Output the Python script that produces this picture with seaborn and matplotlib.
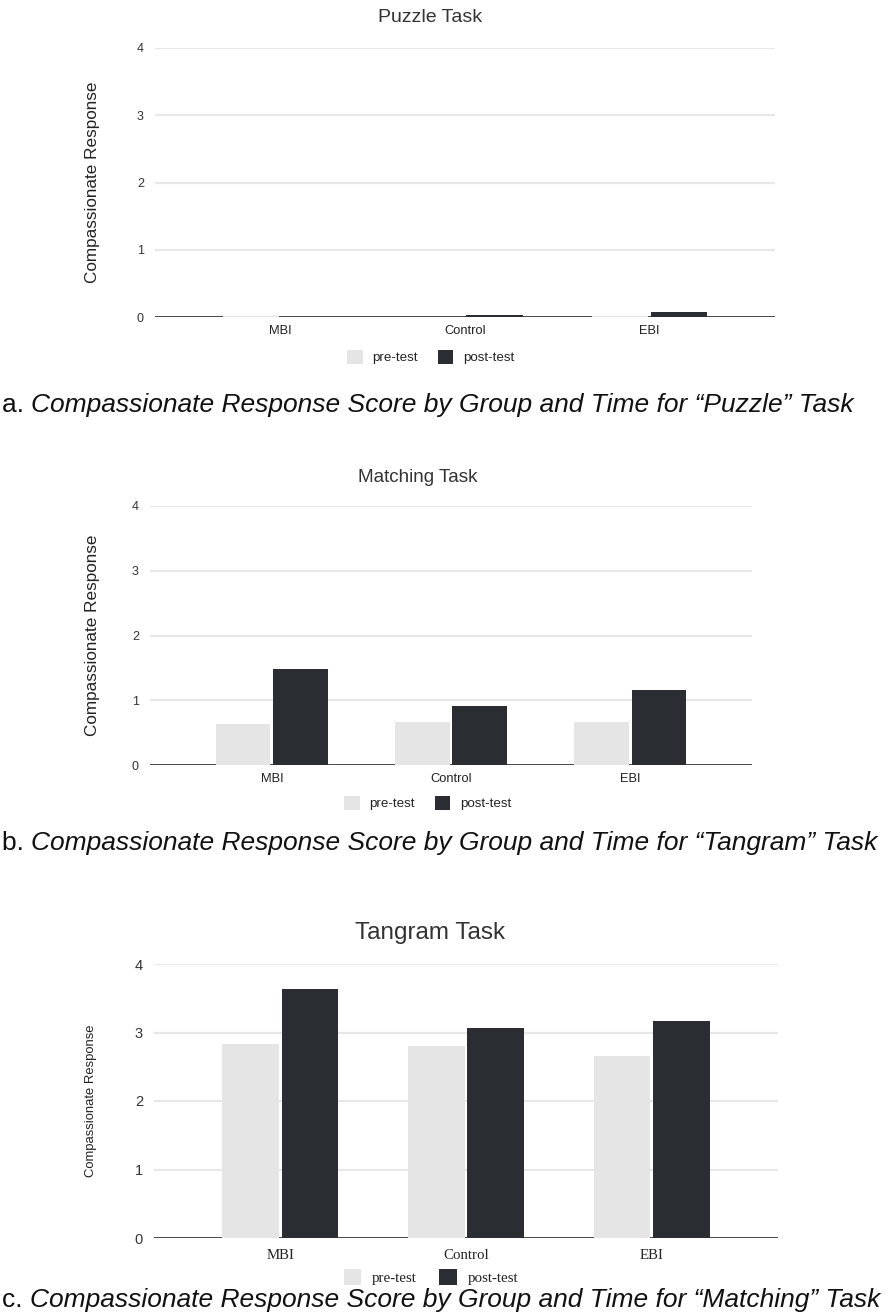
import matplotlib
matplotlib.use("Agg")
import matplotlib.pyplot as plt
import seaborn as sns
import pandas as pd
from matplotlib.patches import Patch

sns.set_style("white")
plt.rcParams['font.family'] = ['Liberation Sans', 'DejaVu Sans']

groups = ["MBI", "Control", "EBI"]
times = ["pre-test", "post-test"]
titles = ["Puzzle Task", "Matching Task", "Tangram Task"]
captions = [
    ("a.", "Compassionate Response Score by Group and Time for \u201cPuzzle\u201d Task"),
    ("b.", "Compassionate Response Score by Group and Time for \u201cTangram\u201d Task"),
    ("c.", "Compassionate Response Score by Group and Time for \u201cMatching\u201d Task"),
]
puzzle_pre = [0.02, 0.0, 0.02]
puzzle_post = [0.0, 0.03, 0.07]
matching_pre = [0.63, 0.66, 0.66]
matching_post = [1.49, 0.91, 1.16]
tangram_pre = [2.83, 2.81, 2.66]
tangram_post = [3.64, 3.07, 3.17]
y_ticks = [0, 1, 2, 3, 4]
ylabel = "Compassionate Response"

series = [(puzzle_pre, puzzle_post), (matching_pre, matching_post), (tangram_pre, tangram_post)]
palette = {"pre-test": "#e5e5e5", "post-test": "#2a2e32"}

W, H = 889, 1316
fig = plt.figure(figsize=(W / 100, H / 100), dpi=100)

# layout in pixels: left, right, top (y=4), bottom (y=0)
boxes = [(155, 775, 48, 317), (150, 752, 506, 765), (154, 778, 964, 1238)]
title_y = [18, 477, 933]
title_x = [430, 418, 430]
title_fs = [14, 13.6, 17.5]
legend_y = [357, 803, 1277]
legend_x = [431, 428, 431]
caption_y = [405, 843, 1300]
ylab_x = [93, 92, 91]
ylab_fs = [12.3, 12.3, 9.4]

for i in range(3):
    pre, post = series[i]
    df = pd.DataFrame({
        "group": groups * 2,
        "time": [times[0]] * 3 + [times[1]] * 3,
        "value": list(pre) + list(post),
    })
    l, r, t, b = boxes[i]
    ax = fig.add_axes([l / W, 1 - b / H, (r - l) / W, (b - t) / H])
    sns.barplot(data=df, x="group", y="value", hue="time", hue_order=times,
                order=groups, palette=palette, width=0.64, gap=0.05,
                errorbar=None, ax=ax, legend=False, zorder=3, linewidth=0,
                saturation=1)
    ax.set_xlim(-0.68, 2.68)
    ax.set_ylim(0, 4)
    for yv in y_ticks[1:]:
        ax.axhline(yv, color="#e8e8e8", lw=1.6, zorder=1)
    ax.axhline(0, color="#4a4a4a", lw=1.4, zorder=2)
    for s in ax.spines.values():
        s.set_visible(False)
    ax.tick_params(length=0)
    ax.set_xlabel("")
    ax.set_ylabel("")
    serif = (i == 2)
    cat_font = {"family": ["Liberation Serif"] if serif else ["Liberation Sans"],
                "size": 10.7 if serif else 9.3, "color": "#222222"}
    ax.set_xticks(range(3))
    ax.set_xticklabels(groups, fontdict=cat_font)
    ax.tick_params(axis="x", pad=8 if serif else 6)
    ax.set_yticks(y_ticks)
    ax.set_yticklabels([str(v) for v in y_ticks],
                       fontdict={"size": 10.5 if serif else 9, "color": "#333333"})
    ax.tick_params(axis="y", pad=8 if serif else 8)

    # title
    fig.text(title_x[i] / W, 1 - title_y[i] / H, titles[i], ha="center", va="center",
             fontsize=title_fs[i], color="#333333")
    # ylabel
    fig.text(ylab_x[i] / W, 1 - (t + b) / 2 / H, ylabel, rotation=90, ha="center",
             va="center", fontsize=ylab_fs[i], color="#222222")
    # legend
    handles = [Patch(facecolor=palette[tm], edgecolor="none", label=tm) for tm in times]
    lfs = 10.8 if serif else 9.6
    leg = fig.legend(handles=handles, loc="center", ncol=2,
                     bbox_to_anchor=(legend_x[i] / W, 1 - legend_y[i] / H),
                     frameon=False, handlelength=1.15, handleheight=1.3,
                     columnspacing=1.5, handletextpad=0.75,
                     prop={"family": ["Liberation Serif"] if serif else ["Liberation Sans"],
                           "size": lfs})
    for txt in leg.get_texts():
        txt.set_color("#222222")

# captions
fig.canvas.draw()
renderer = fig.canvas.get_renderer()
for i in range(3):
    lab, rest = captions[i]
    y = 1 - caption_y[i] / H
    t1 = fig.text(2 / W, y, lab + " ", ha="left", va="center", fontsize=19, color="#111111")
    bb = t1.get_window_extent(renderer)
    fig.text(bb.x1 / W, y, rest, ha="left", va="center", fontsize=19,
             style="italic", color="#111111")

fig.savefig("out.png", dpi=100, facecolor="white")
